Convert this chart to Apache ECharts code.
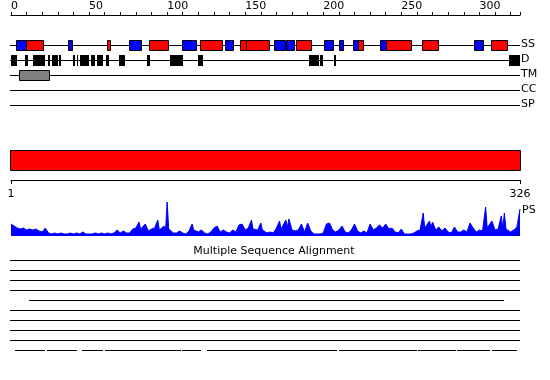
<!DOCTYPE html>
<html><head><meta charset="utf-8">
<script src="https://cdn.jsdelivr.net/npm/echarts@6/dist/echarts.min.js"></script>
<style>html,body{margin:0;padding:0;background:#fff}#c{width:550px;height:380px}</style>
</head><body><div id="c"></div>
<script>
// ---------------- DATA ----------------
const seqLength = 326;
const topTickLabels = [0, 50, 100, 150, 200, 250, 300];
const rulerLabels = [1, 326];
const rowLabels = ['SS', 'D', 'TM', 'CC', 'SP'];
const psLabel = 'PS';
const alignmentTitle = 'Multiple Sequence Alignment';

// Secondary structure: H = helix (red), E = strand (blue)
const ssStart = [4, 10, 37, 62, 76, 89, 110, 122, 138, 147, 151, 169, 177, 183, 201, 211, 220, 223, 237, 241, 264, 297, 308];
const ssEnd   = [10, 21, 40, 64, 84, 101, 119, 136, 143, 151, 166, 176, 182, 193, 207, 213, 223, 226, 241, 257, 274, 303, 318];
const ssType  = ['E','H','E','H','E','H','E','H','E','H','H','E','E','H','E','E','E','H','E','H','H','E','H'];

// Disorder
const disStart = [0, 9, 14, 24, 26, 31, 40, 42, 44, 51, 55, 61, 69, 87, 102, 120, 191, 198, 207, 319];
const disEnd   = [4, 11, 22, 25, 30, 32, 41, 43, 50, 54, 59, 63, 73, 89, 110, 123, 197, 200, 208, 326];

// Transmembrane
const tmStart = [6];
const tmEnd   = [25];

// Domain bar
const domainStart = [1];
const domainEnd   = [326];

// Multiple sequence alignment coverage segments
const alnRow   = [0, 1, 2, 3, 4, 5, 5, 6, 6, 7, 7, 8, 8, 8, 9, 9, 9, 9, 9, 9, 9, 9, 9, 9];
const alnStart = [0, 0, 0, 0, 12, 0, 43, 0, 45, 0, 36, 0, 24, 43, 3, 24, 46, 61, 110, 126, 211, 261, 286, 309];
const alnEnd   = [326, 326, 326, 326, 316, 42, 326, 44, 326, 35, 326, 23, 42, 326, 22, 42, 59, 109, 122, 209, 260, 285, 307, 324];

// PS profile
const psPos = [0,2,4,6,8,10,12,14,16,18,20,22,24,26,28,30,32,34,36,38,40,42,44,46,48,50,52,54,56,58,60,62,64,66,68,70,72,74,76,78,
  80,81,82,83,84,86,88,90,92,93,94,95,96,98,99,100,101,102,104,106,108,110,112,114,115,116,117,118,120,122,124,126,128,130,132,134,136,138,140,142,144,146,148,150,
  152,153,154,155,156,158,159,160,161,162,164,166,168,170,171,172,173,174,176,177,178,180,182,184,186,188,190,192,194,196,198,200,202,204,206,208,210,212,214,216,218,
  220,222,224,226,228,230,232,234,236,238,240,242,244,246,248,250,252,254,256,258,260,262,263,264,265,266,268,269,270,272,274,276,278,280,282,284,286,288,290,292,294,296,298,
  300,302,303,304,305,306,308,310,312,313,314,315,316,317,318,320,322,324,326];
const psVal = [12,10,8,7,8,6,7,6,7,5,4,8,3,2,3,2,3,2,2,3,2,3,2,4,2,2,2,3,2,3,2,3,2,3,6,3,5,3,3,7,
  8,8,14,7,8,12,5,7,8,7,16,6,5,10,6,34,7,5,3,3,5,3,2,5,5,12,6,8,4,6,3,2,4,8,10,4,6,4,3,6,4,11,12,6,
  8,6,16,7,5,6,5,13,6,5,3,4,3,8,6,15,7,6,16,9,17,6,5,6,12,4,13,5,2,2,2,3,12,13,6,4,6,10,4,3,6,
  12,5,3,5,3,12,6,8,11,8,12,7,8,4,3,7,2,2,2,3,5,6,7,23,8,7,15,9,14,6,9,5,8,4,3,9,4,4,6,4,13,8,4,
  6,5,7,29,8,6,15,6,7,6,20,8,23,7,8,4,6,9,27];

// ---------------- LAYOUT ----------------
const FONT = 'DejaVu Sans';
const ROW_Y = [45.5, 60.5, 75.5, 90.5, 105.5];
const chart = echarts.init(document.getElementById('c'), null, {renderer: 'canvas'});

function px(api, v) { return api.coord([v, 100])[0]; }

function strokedBoxes(y, h, colorFn) {
  return function (params, api) {
    const x0 = Math.round(px(api, api.value(0)));
    const x1 = Math.round(px(api, api.value(1)));
    return {type: 'rect', shape: {x: x0 - 0.5, y: y, width: x1 - x0, height: h},
      style: {fill: colorFn(api), stroke: '#000', lineWidth: 1}};
  };
}

const series = [
  { // track lines
    type: 'custom', xAxisIndex: 0, yAxisIndex: 0, silent: true,
    data: rowLabels.map((l, i) => [0, seqLength, i]),
    renderItem: function (params, api) {
      const x0 = Math.round(px(api, api.value(0))) - 1;
      const x1 = Math.round(px(api, api.value(1)));
      const y = ROW_Y[api.value(2)];
      return {type: 'line', shape: {x1: x0, y1: y, x2: x1, y2: y}, style: {stroke: '#000', lineWidth: 1}};
    }
  },
  { // SS
    type: 'custom', xAxisIndex: 0, yAxisIndex: 0, silent: true,
    data: ssStart.map((s, i) => [s, ssEnd[i], ssType[i] === 'H' ? 1 : 0]),
    renderItem: strokedBoxes(40.5, 10, api => api.value(2) === 1 ? '#ff0000' : '#0000ff')
  },
  { // disorder
    type: 'custom', xAxisIndex: 0, yAxisIndex: 0, silent: true,
    data: disStart.map((s, i) => [s, disEnd[i]]),
    renderItem: function (params, api) {
      const x0 = Math.round(px(api, api.value(0)));
      const x1 = Math.round(px(api, api.value(1)));
      return {type: 'rect', shape: {x: x0, y: 55, width: Math.max(1, x1 - x0), height: 11}, style: {fill: '#000'}};
    }
  },
  { // TM
    type: 'custom', xAxisIndex: 0, yAxisIndex: 0, silent: true,
    data: tmStart.map((s, i) => [s, tmEnd[i]]),
    renderItem: strokedBoxes(70.5, 10, () => '#808080')
  },
  { // domain bar
    type: 'custom', xAxisIndex: 1, yAxisIndex: 1, silent: true,
    data: domainStart.map((s, i) => [s, domainEnd[i]]),
    renderItem: function (params, api) {
      const x0 = Math.round(px(api, api.value(0))) - 1;
      const x1 = Math.round(px(api, api.value(1)));
      return {type: 'rect', shape: {x: x0 + 0.5, y: 150.5, width: x1 - x0, height: 20},
        style: {fill: '#ff0000', stroke: '#000', lineWidth: 1}};
    }
  },
  { // alignment
    type: 'custom', xAxisIndex: 0, yAxisIndex: 0, silent: true,
    data: alnStart.map((s, i) => [s, alnEnd[i], alnRow[i]]),
    renderItem: function (params, api) {
      const x0 = Math.round(px(api, api.value(0))) - 1;
      const x1 = Math.round(px(api, api.value(1)));
      const y = 260.5 + 10 * api.value(2);
      return {type: 'line', shape: {x1: x0, y1: y, x2: x1, y2: y}, style: {stroke: '#000', lineWidth: 1}};
    }
  },
  { // PS profile
    type: 'line', xAxisIndex: 2, yAxisIndex: 2, silent: true,
    data: psPos.map((p, i) => [p, psVal[i]]),
    symbol: 'none', smooth: false,
    lineStyle: {color: '#0000ff', width: 1},
    areaStyle: {color: '#0000ff', opacity: 1}
  }
];

const graphic = [];
rowLabels.forEach((l, i) => graphic.push({type: 'text', left: 521, top: ROW_Y[i] - 6.5,
  style: {text: l, font: '11px ' + FONT, fill: '#000'}}));
graphic.push({type: 'text', left: 522, top: 205, style: {text: psLabel, font: '11px ' + FONT, fill: '#000'}});
graphic.push({type: 'text', x: 274, y: 251, style: {text: alignmentTitle, font: '11px ' + FONT, fill: '#000', align: 'center', verticalAlign: 'middle'}});

chart.setOption({
  animation: false,
  backgroundColor: '#fff',
  grid: [
    {left: 11, right: 30, top: 15, height: 365},
    {left: 11, right: 30, top: 170, height: 10},
    {left: 11, right: 30, top: 201, height: 35}
  ],
  xAxis: [
    {gridIndex: 0, type: 'value', position: 'top', min: 0, max: seqLength, interval: 10,
      axisLine: {show: true, lineStyle: {color: '#000', width: 1}},
      axisTick: {show: true, length: 3, lineStyle: {color: '#000'}},
      axisLabel: {show: true, align: 'left', margin: 3, fontSize: 11, fontFamily: FONT, color: '#000',
        formatter: v => topTickLabels.indexOf(v) >= 0 ? String(v) : ''},
      splitLine: {show: false}},
    {gridIndex: 1, type: 'value', position: 'bottom', min: rulerLabels[0], max: rulerLabels[1],
      axisLine: {show: true, lineStyle: {color: '#000', width: 1}},
      axisTick: {show: true, length: 4, customValues: rulerLabels, lineStyle: {color: '#000'}},
      axisLabel: {show: true, customValues: rulerLabels, margin: 9, fontSize: 11, fontFamily: FONT, color: '#000'},
      splitLine: {show: false}},
    {gridIndex: 2, type: 'value', min: 0, max: seqLength, show: false}
  ],
  yAxis: [
    {gridIndex: 0, type: 'value', min: 15, max: 380, inverse: true, show: false},
    {gridIndex: 1, type: 'value', min: 0, max: 1, show: false},
    {gridIndex: 2, type: 'value', min: 0, max: 35, show: false}
  ],
  graphic: graphic,
  series: series
});
</script></body></html>
